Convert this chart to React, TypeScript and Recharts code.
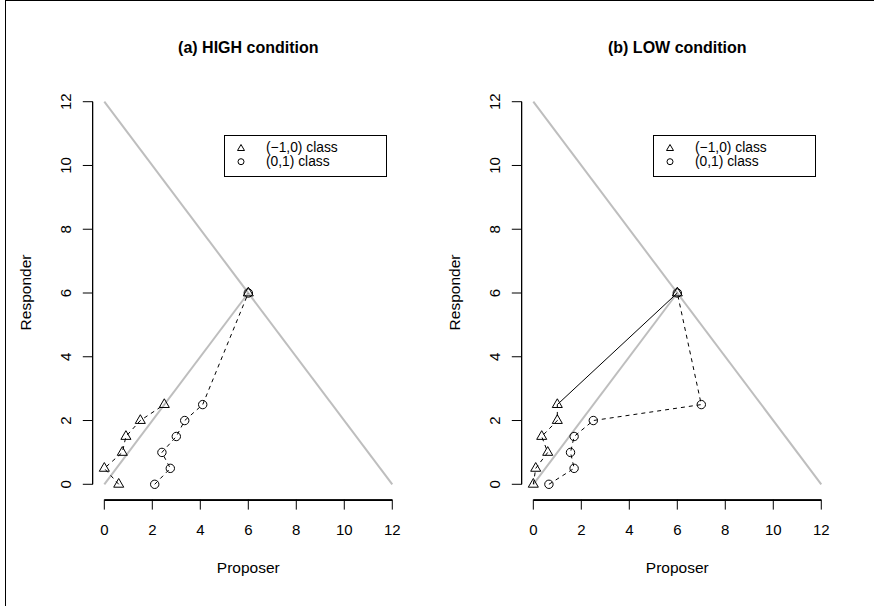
import React from 'react';
import { ScatterChart, Scatter, XAxis, YAxis, ReferenceLine, Customized } from 'recharts';

// ---- data ----
const axisTicks = [0, 2, 4, 6, 8, 10, 12];
const panelTitles = ['(a) HIGH condition', '(b) LOW condition'];
const legendLabels = ['(\u22121,0) class', '(0,1) class'];
const xLabel = 'Proposer';
const yLabel = 'Responder';

// grey reference lines
const budgetLineX = [0, 12];
const budgetLineY = [12, 0];
const equalLineX = [0, 6];
const equalLineY = [0, 6];

// equilibrium point
const eqX = [6];
const eqY = [6];

// HIGH condition
const highTriX = [0.6, 0, 0.75, 0.9, 1.5, 2.5];
const highTriY = [0, 0.5, 1, 1.5, 2, 2.5];
const highCirX = [2.1, 2.75, 2.4, 3.0, 3.35, 4.1, 6];
const highCirY = [0, 0.5, 1, 1.5, 2, 2.5, 6];

// LOW condition
const lowTriX = [0, 0.1, 0.6, 0.35, 1, 1];
const lowTriY = [0, 0.5, 1, 1.5, 2, 2.5];
const lowTriLinkX = [1, 6];
const lowTriLinkY = [2.5, 6];
const lowCirX = [0.65, 1.7, 1.55, 1.7, 2.5, 7, 6];
const lowCirY = [0, 0.5, 1, 1.5, 2, 2.5, 6];

const zip = (xs: number[], ys: number[]) => xs.map((x, i) => ({ x, y: ys[i] }));

const FONT = '"Liberation Sans", Arial, Helvetica, sans-serif';
const DOMAIN: [number, number] = [-0.48, 12.48];
const DASH = '4 4';

// chart layout
const CHART_W = 437;
const CHART_H = 606;
const MARGIN = { top: 86.4, right: 33.2, bottom: 66.4, left: 52.8 };
const X_AXIS_H = 40;
const Y_AXIS_W = 40;
const PLOT_X = MARGIN.left + Y_AXIS_W;
const PLOT_Y = MARGIN.top;
const PLOT_W = CHART_W - MARGIN.left - MARGIN.right - Y_AXIS_W;
const PLOT_H = CHART_H - MARGIN.top - MARGIN.bottom - X_AXIS_H;
const SPAN = DOMAIN[1] - DOMAIN[0];
const TICK_MIN = axisTicks[0];
const TICK_MAX = axisTicks[axisTicks.length - 1];
const px = (v: number) => PLOT_X + ((v - DOMAIN[0]) * PLOT_W) / SPAN;
const py = (v: number) => PLOT_Y + PLOT_H - ((v - DOMAIN[0]) * PLOT_H) / SPAN;
// R-style axis lines covering only the tick range (drawn by the axes' own axisLine)
const xAxisDash = `0 ${px(TICK_MIN) - PLOT_X} ${px(TICK_MAX) - px(TICK_MIN)} 2000`;
const yAxisDash = `0 ${py(TICK_MAX) - PLOT_Y} ${py(TICK_MIN) - py(TICK_MAX)} 2000`;

const Triangle = (props: any) => {
  const { cx, cy } = props;
  if (cx == null || cy == null) return <g />;
  const r = 5.8;
  const xc = (r * Math.sqrt(3)) / 2;
  const d = `M${cx},${cy - r} L${cx + xc},${cy + r / 2} L${cx - xc},${cy + r / 2} Z`;
  return <path d={d} fill="none" stroke="#000" strokeWidth={1} />;
};

const Circle = (props: any) => {
  const { cx, cy } = props;
  if (cx == null || cy == null) return <g />;
  return <circle cx={cx} cy={cy} r={4.2} fill="none" stroke="#000" strokeWidth={1} />;
};

const NoShape = () => <g />;

const XTick = (props: any) => {
  const { x, y, payload } = props;
  return (
    <text x={x} y={y} dy="0.71em" textAnchor="middle" fontSize={15} fontFamily={FONT} fill="#000">
      {payload.value}
    </text>
  );
};

const YTick = (props: any) => {
  const { x, y, payload } = props;
  return (
    <text x={x} y={y} transform={`rotate(-90 ${x} ${y})`} textAnchor="middle" fontSize={15} fontFamily={FONT} fill="#000">
      {payload.value}
    </text>
  );
};

const Decor = ({ title }: { title: string }) => {
  const axisY = Math.round(PLOT_Y + PLOT_H) + 0.5;
  const axisX = Math.round(PLOT_X) - 0.5;
  return (
    <g fontFamily={FONT} fill="#000">
      {/* R-style axis lines covering only the tick range */}
      <path d={`M${px(TICK_MIN)},${axisY} H${px(TICK_MAX)}`} stroke="#000" strokeWidth={1} fill="none" />
      <path d={`M${axisX},${py(TICK_MAX)} V${py(TICK_MIN)}`} stroke="#000" strokeWidth={1} fill="none" />
      <text x={PLOT_X + PLOT_W / 2} y={53.3} textAnchor="middle" fontSize={16} fontWeight="bold">
        {title}
      </text>
      <text x={PLOT_X + PLOT_W / 2} y={573.3} textAnchor="middle" fontSize={15.5}>
        {xLabel}
      </text>
      <text x={30.5} y={292.5} transform="rotate(-90 30.5 292.5)" textAnchor="middle" fontSize={15.5}>
        {yLabel}
      </text>
      {/* legend */}
      <rect x={224.5} y={135.5} width={162} height={41} fill="#fff" stroke="#000" strokeWidth={1} />
      <path d="M241,144.5 L244.5,150.5 L237.5,150.5 Z" fill="none" stroke="#000" strokeWidth={1} />
      <circle cx={241} cy={161.7} r={3} fill="none" stroke="#000" strokeWidth={1} />
      <text x={266} y={152.3} fontSize={13.8}>
        {legendLabels[0]}
      </text>
      <text x={266} y={165.8} fontSize={13.8}>
        {legendLabels[1]}
      </text>
    </g>
  );
};

type PanelProps = {
  left: number;
  title: string;
  triangles: { x: number; y: number }[];
  circles: { x: number; y: number }[];
  link?: { x: number; y: number }[];
};

const Panel = ({ left, title, triangles, circles, link }: PanelProps) => (
  <div style={{ position: 'absolute', left, top: 0, width: CHART_W, height: CHART_H }}>
    <ScatterChart width={CHART_W} height={CHART_H} margin={MARGIN}>
      <XAxis
        type="number"
        dataKey="x"
        domain={DOMAIN}
        ticks={axisTicks}
        axisLine={{ stroke: '#000', strokeWidth: 1, strokeDasharray: xAxisDash }}
        tickLine={{ stroke: '#000' }}
        tickSize={10}
        tickMargin={15}
        height={X_AXIS_H}
        tick={<XTick />}
        interval={0}
      />
      <YAxis
        type="number"
        dataKey="y"
        domain={DOMAIN}
        ticks={axisTicks}
        axisLine={{ stroke: '#000', strokeWidth: 1, strokeDasharray: yAxisDash }}
        tickLine={{ stroke: '#000' }}
        tickSize={10}
        tickMargin={11.8}
        width={Y_AXIS_W}
        tick={<YTick />}
        interval={0}
      />
      <ReferenceLine
        segment={zip(budgetLineX, budgetLineY) as any}
        stroke="#bebebe"
        strokeWidth={2}
        ifOverflow="visible"
      />
      <ReferenceLine
        segment={zip(equalLineX, equalLineY) as any}
        stroke="#bebebe"
        strokeWidth={2}
        ifOverflow="visible"
      />
      {link && (
        <Scatter
          data={link}
          shape={NoShape}
          line={{ stroke: '#000', strokeWidth: 1 }}
          lineType="joint"
          isAnimationActive={false}
        />
      )}
      <Scatter
        data={triangles}
        shape={Triangle}
        line={{ stroke: '#000', strokeWidth: 1, strokeDasharray: DASH }}
        lineType="joint"
        isAnimationActive={false}
      />
      <Scatter
        data={circles}
        shape={Circle}
        line={{ stroke: '#000', strokeWidth: 1, strokeDasharray: DASH }}
        lineType="joint"
        isAnimationActive={false}
      />
      <Scatter data={zip(eqX, eqY)} shape={Triangle} isAnimationActive={false} />
      <Customized component={<Decor title={title} />} />
    </ScatterChart>
  </div>
);

export default function App() {
  return (
    <div style={{ position: 'absolute', left: 0, top: 0, width: 874, height: 606, background: '#fff', overflow: 'hidden' }}>
      <div
        style={{
          position: 'absolute',
          left: 5,
          top: 0,
          width: 869,
          height: 606,
          borderTop: '1px solid #000',
          borderLeft: '1px solid #000',
          boxSizing: 'border-box',
        }}
      />
      <Panel left={0} title={panelTitles[0]} triangles={zip(highTriX, highTriY)} circles={zip(highCirX, highCirY)} />
      <Panel
        left={429}
        title={panelTitles[1]}
        triangles={zip(lowTriX, lowTriY)}
        circles={zip(lowCirX, lowCirY)}
        link={zip(lowTriLinkX, lowTriLinkY)}
      />
    </div>
  );
}
